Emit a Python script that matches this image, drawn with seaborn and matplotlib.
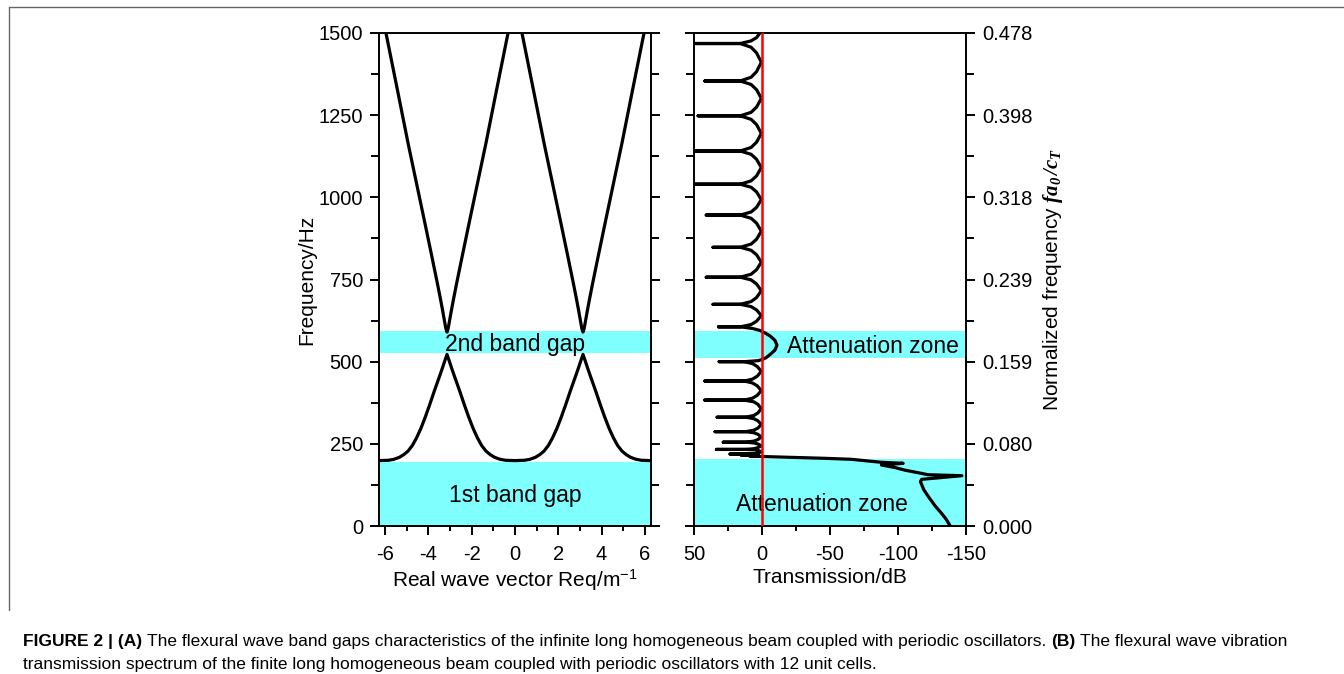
import numpy as np
import matplotlib
matplotlib.use("Agg")
import matplotlib.pyplot as plt
from matplotlib.lines import Line2D
from matplotlib.ticker import MultipleLocator
import seaborn as sns

# ---------------- data ----------------
# (A) band structure, given as distance from the zone edge d = |k - pi| (1/m)
lower_d = [0, 0.1, 0.2, 0.32, 0.45, 0.6, 0.8, 1.0, 1.2, 1.4, 1.6, 1.8, 2.0, 2.2, 2.45, 2.7, 3.1416]
lower_hz = [522, 503, 483, 460, 436, 408, 369, 332, 298, 269, 245, 228, 217, 209, 203, 200, 199]
upper_d = [0, 0.05, 0.12, 0.2, 0.3, 0.45, 0.7, 1.0, 1.4, 1.8, 2.3, 2.82, 2.95]
upper_hz = [590, 600, 625, 655, 690, 740, 820, 915, 1040, 1165, 1330, 1500, 1542]

gaps_a = [(0, 194), (526, 593)]
gaps_b = [(0, 204), (511, 593)]

# (B) transmission spectrum, split by frequency range
gap1_hz = [0, 20, 38.5, 60, 89, 110, 135, 142, 153, 156, 160, 170, 178, 185.6, 190.7, 193.8,
           197.8, 203, 206, 209, 211]
gap1_db = [-138.4, -135.5, -132, -127.5, -122.4, -119, -116.5, -117.4, -147, -122, -117.4, -105,
           -97.6, -87.8, -103.8, -87.8, -77.9, -65.5, -45.7, -21, -3.7]

pass1_hz = [211.8, 212.5, 212.5, 212.5, 213.7, 215, 215, 215, 216.3, 217.6,
            219, 219, 219, 220.4, 222.5, 226, 229.5, 231.6,
            233, 233, 233, 235.2, 238.5, 244, 249.5, 252.8,
            255, 255, 255, 258.2, 263, 271, 279, 283.8,
            287, 287, 287, 291.4, 298, 309, 320, 326.6,
            331, 331, 331, 336.2, 344, 357, 370, 377.8,
            383, 383, 383, 388.8, 397.5, 412, 426.5, 435.2,
            441, 441, 441, 446.9, 455.8, 470.5, 485.3, 494.1,
            500, 500, 500]
pass1_db = [3, 6, 9, 6, 2.5, 8, 15, 8, 3, 3,
            10, 23.5, 10, 5, 2.5, 0.5, 2.5, 5,
            12, 33.5, 12, 6, 3, 0.5, 3, 6,
            12, 28.5, 12, 6, 3, 0.5, 3, 6,
            12, 34.5, 12, 6, 3, 0.5, 3, 6,
            12, 33, 12, 6, 3, 0.5, 3, 6,
            13, 42, 13, 7, 3.5, 0.5, 3.5, 7,
            13, 42, 13, 7, 3.5, 0.5, 3.5, 7,
            13, 31.5, 13]

gap2_hz = [503, 507, 512, 522, 535, 550, 565, 578, 588, 595, 601]
gap2_db = [3, -0.5, -3, -6, -9.5, -11, -9.5, -6, -2, 1.5, 7]

pass2_hz = [606, 606, 606, 612.9, 623.1, 640.3, 657.4, 667.6,
            674.5, 674.5, 674.5, 682.8, 695.1, 715.8, 736.4, 748.8,
            757, 757, 757, 766.1, 779.8, 802.5, 825.3, 838.9,
            848, 848, 848, 857.8, 872.5, 897, 921.5, 936.2,
            946, 946, 946, 955.4, 969.5, 993, 1016.5, 1030.6,
            1040, 1040, 1040, 1050.1, 1065.3, 1090.5, 1115.8, 1130.9,
            1141, 1141, 1141, 1151.7, 1167.8, 1194.5, 1221.3, 1237.3,
            1248, 1248, 1248, 1258.6, 1274.5, 1301, 1327.5, 1343.4,
            1354, 1354, 1354, 1365.4, 1382.5, 1411, 1439.5, 1456.6,
            1468, 1468, 1468, 1476, 1486, 1500]
pass2_db = [16, 32, 16, 8, 4, 0.5, 4, 8,
            16, 36, 16, 8, 4, 0.5, 4, 8,
            16, 41, 16, 8, 4, 0.5, 4, 8,
            16, 36, 16, 8, 4, 0.5, 4, 8,
            16, 41, 16, 8, 4, 0.5, 4, 8,
            16, 52, 16, 8, 4, 0.5, 4, 8,
            16, 52, 16, 8, 4, 0.5, 4, 8,
            16, 47, 16, 8, 4, 0.5, 4, 8,
            16, 42, 16, 8, 4, 0.5, 4, 8,
            16, 52, 16, 8, 4, 1.5]

norm_labels = ["0.000", "0.080", "0.159", "0.239", "0.318", "0.398", "0.478"]

caption_1 = [("FIGURE 2 | (A)", True),
             ("The flexural wave band gaps characteristics of the infinite long homogeneous beam "
              "coupled with periodic oscillators.", False),
             ("(B)", True),
             ("The flexural wave vibration", False)]
caption_2 = [("transmission spectrum of the finite long homogeneous beam coupled with periodic "
              "oscillators with 12 unit cells.", False)]

# ---------------- style ----------------
sns.set_theme(style="ticks")
plt.rcParams["font.family"] = ["Liberation Sans", "DejaVu Sans"]
plt.rcParams.update({
    "mathtext.fontset": "custom",
    "mathtext.rm": "Liberation Sans",
    "mathtext.it": "Liberation Serif:italic",
    "mathtext.bf": "Liberation Serif:italic:bold",
    "axes.unicode_minus": False,
    "axes.edgecolor": "black",
    "axes.labelcolor": "black",
    "text.color": "black",
    "axes.linewidth": 1.4,
    "xtick.color": "black",
    "ytick.color": "black",
})
CYAN = "#80ffff"
W, H = 1344, 674

fig = plt.figure(figsize=(W / 100, H / 100), dpi=100)
ax1 = fig.add_axes([379 / W, 148 / H, 272 / W, 493 / H])
ax2 = fig.add_axes([694 / W, 148 / H, 272 / W, 493 / H])

# ---- (A) band structure ----
ld, lf = np.array(lower_d), np.array(lower_hz)
k_low = np.concatenate([-np.pi - ld[::-1], -np.pi + ld[1:], np.pi - ld[::-1][1:], np.pi + ld[1:]])
f_low = np.concatenate([lf[::-1], lf[1:], lf[::-1][1:], lf[1:]])
ud, uf = np.array(upper_d), np.array(upper_hz)

for lo, hi in gaps_a:
    ax1.axhspan(lo, hi, color=CYAN, lw=0, zorder=0)
sns.lineplot(x=k_low, y=f_low, sort=False, estimator=None, color="black", lw=2.3, ax=ax1)
for c in (-np.pi, np.pi):
    sns.lineplot(x=np.concatenate([c - ud[::-1], c + ud[1:]]), y=np.concatenate([uf[::-1], uf[1:]]),
                 sort=False, estimator=None, color="black", lw=2.3, ax=ax1)

ax1.text(0, 532, "2nd band gap", ha="center", va="baseline", fontsize=16.5)
ax1.text(0, 74, "1st band gap", ha="center", va="baseline", fontsize=16.5)
ax1.set_xlim(-2 * np.pi, 2 * np.pi)
ax1.set_ylim(0, 1500)
ax1.xaxis.set_major_locator(MultipleLocator(2))
ax1.xaxis.set_minor_locator(MultipleLocator(1))
ax1.yaxis.set_major_locator(MultipleLocator(250))
ax1.yaxis.set_minor_locator(MultipleLocator(125))
ax1.set_xlabel(r"Real wave vector Req/m$^{-1}$", fontsize=15, labelpad=3)
ax1.set_ylabel("Frequency/Hz", fontsize=15, labelpad=2)

# ---- (B) transmission ----
trans_hz = gap1_hz + pass1_hz + gap2_hz + pass2_hz
trans_db = gap1_db + pass1_db + gap2_db + pass2_db
for lo, hi in gaps_b:
    ax2.axhspan(lo, hi, color=CYAN, lw=0, zorder=0)
sns.lineplot(x=trans_db, y=trans_hz, sort=False, estimator=None, color="black", lw=2.3, ax=ax2)
ax2.text(-81.8, 525, "Attenuation zone", ha="center", va="baseline", fontsize=16.5, zorder=2)
ax2.text(-43.9, 45.6, "Attenuation zone", ha="center", va="baseline", fontsize=16.5, zorder=2)
ax2.axvline(0, color="red", lw=1.8, zorder=3)
ax2.set_xlim(50, -150)
ax2.set_ylim(0, 1500)
ax2.xaxis.set_major_locator(MultipleLocator(50))
ax2.xaxis.set_minor_locator(MultipleLocator(25))
ax2.yaxis.set_minor_locator(MultipleLocator(125))
ax2.set_yticks(np.arange(0, 1501, 250))
ax2.set_yticklabels(norm_labels)
ax2.yaxis.set_label_position("right")
ax2.set_xlabel("Transmission/dB", fontsize=15, labelpad=3)
ax2.set_ylabel(r"Normalized frequency $\mathbf{fa_{0}\,/c_{T}}$", fontsize=15, labelpad=6)

for ax in (ax1, ax2):
    for s in ax.spines.values():
        s.set_visible(True)
        s.set_linewidth(1.4)
    ax.tick_params(which="both", direction="out", top=False, bottom=True, left=True, right=True,
                   width=1.4, colors="black", labelsize=14.5)
    ax.tick_params(axis="x", which="major", length=6.5, pad=7)
    ax.tick_params(axis="x", which="minor", length=3.5)
    ax.tick_params(axis="y", which="major", length=6.5, pad=5)
    ax.tick_params(axis="y", which="minor", length=5.5)
    ax.set_facecolor("white")
ax1.tick_params(axis="y", labelleft=True, labelright=False)
ax2.tick_params(axis="y", labelleft=False, labelright=True)

# ---- frame lines of the figure panel ----
fig.add_artist(Line2D([9 / W, 1], [1 - 7 / H, 1 - 7 / H], color="#666666", lw=1.0,
                      transform=fig.transFigure))
fig.add_artist(Line2D([9 / W, 9 / W], [1 - 7 / H, 1 - 610 / H], color="#666666", lw=1.0,
                      transform=fig.transFigure))

# ---- caption ----
renderer = fig.canvas.get_renderer()


def caption_line(y_px, pieces, size):
    x = 23
    arts = []
    for txt, bold in pieces:
        t = fig.text(x / W, 1 - y_px / H, txt, fontsize=size, va="baseline", ha="left",
                     fontweight="bold" if bold else "normal", color="black")
        arts.append(t)
        x = t.get_window_extent(renderer).x1 + 0.278 * size * 100 / 72
    return x, arts


size = 11
end, arts = caption_line(646, caption_1, size)
for a in arts:
    a.remove()
size = size * (1290 - 23) / (end - 23)
caption_line(646, caption_1, size)
caption_line(669, caption_2, size)

fig.savefig("out.png", dpi=100, facecolor="white")
